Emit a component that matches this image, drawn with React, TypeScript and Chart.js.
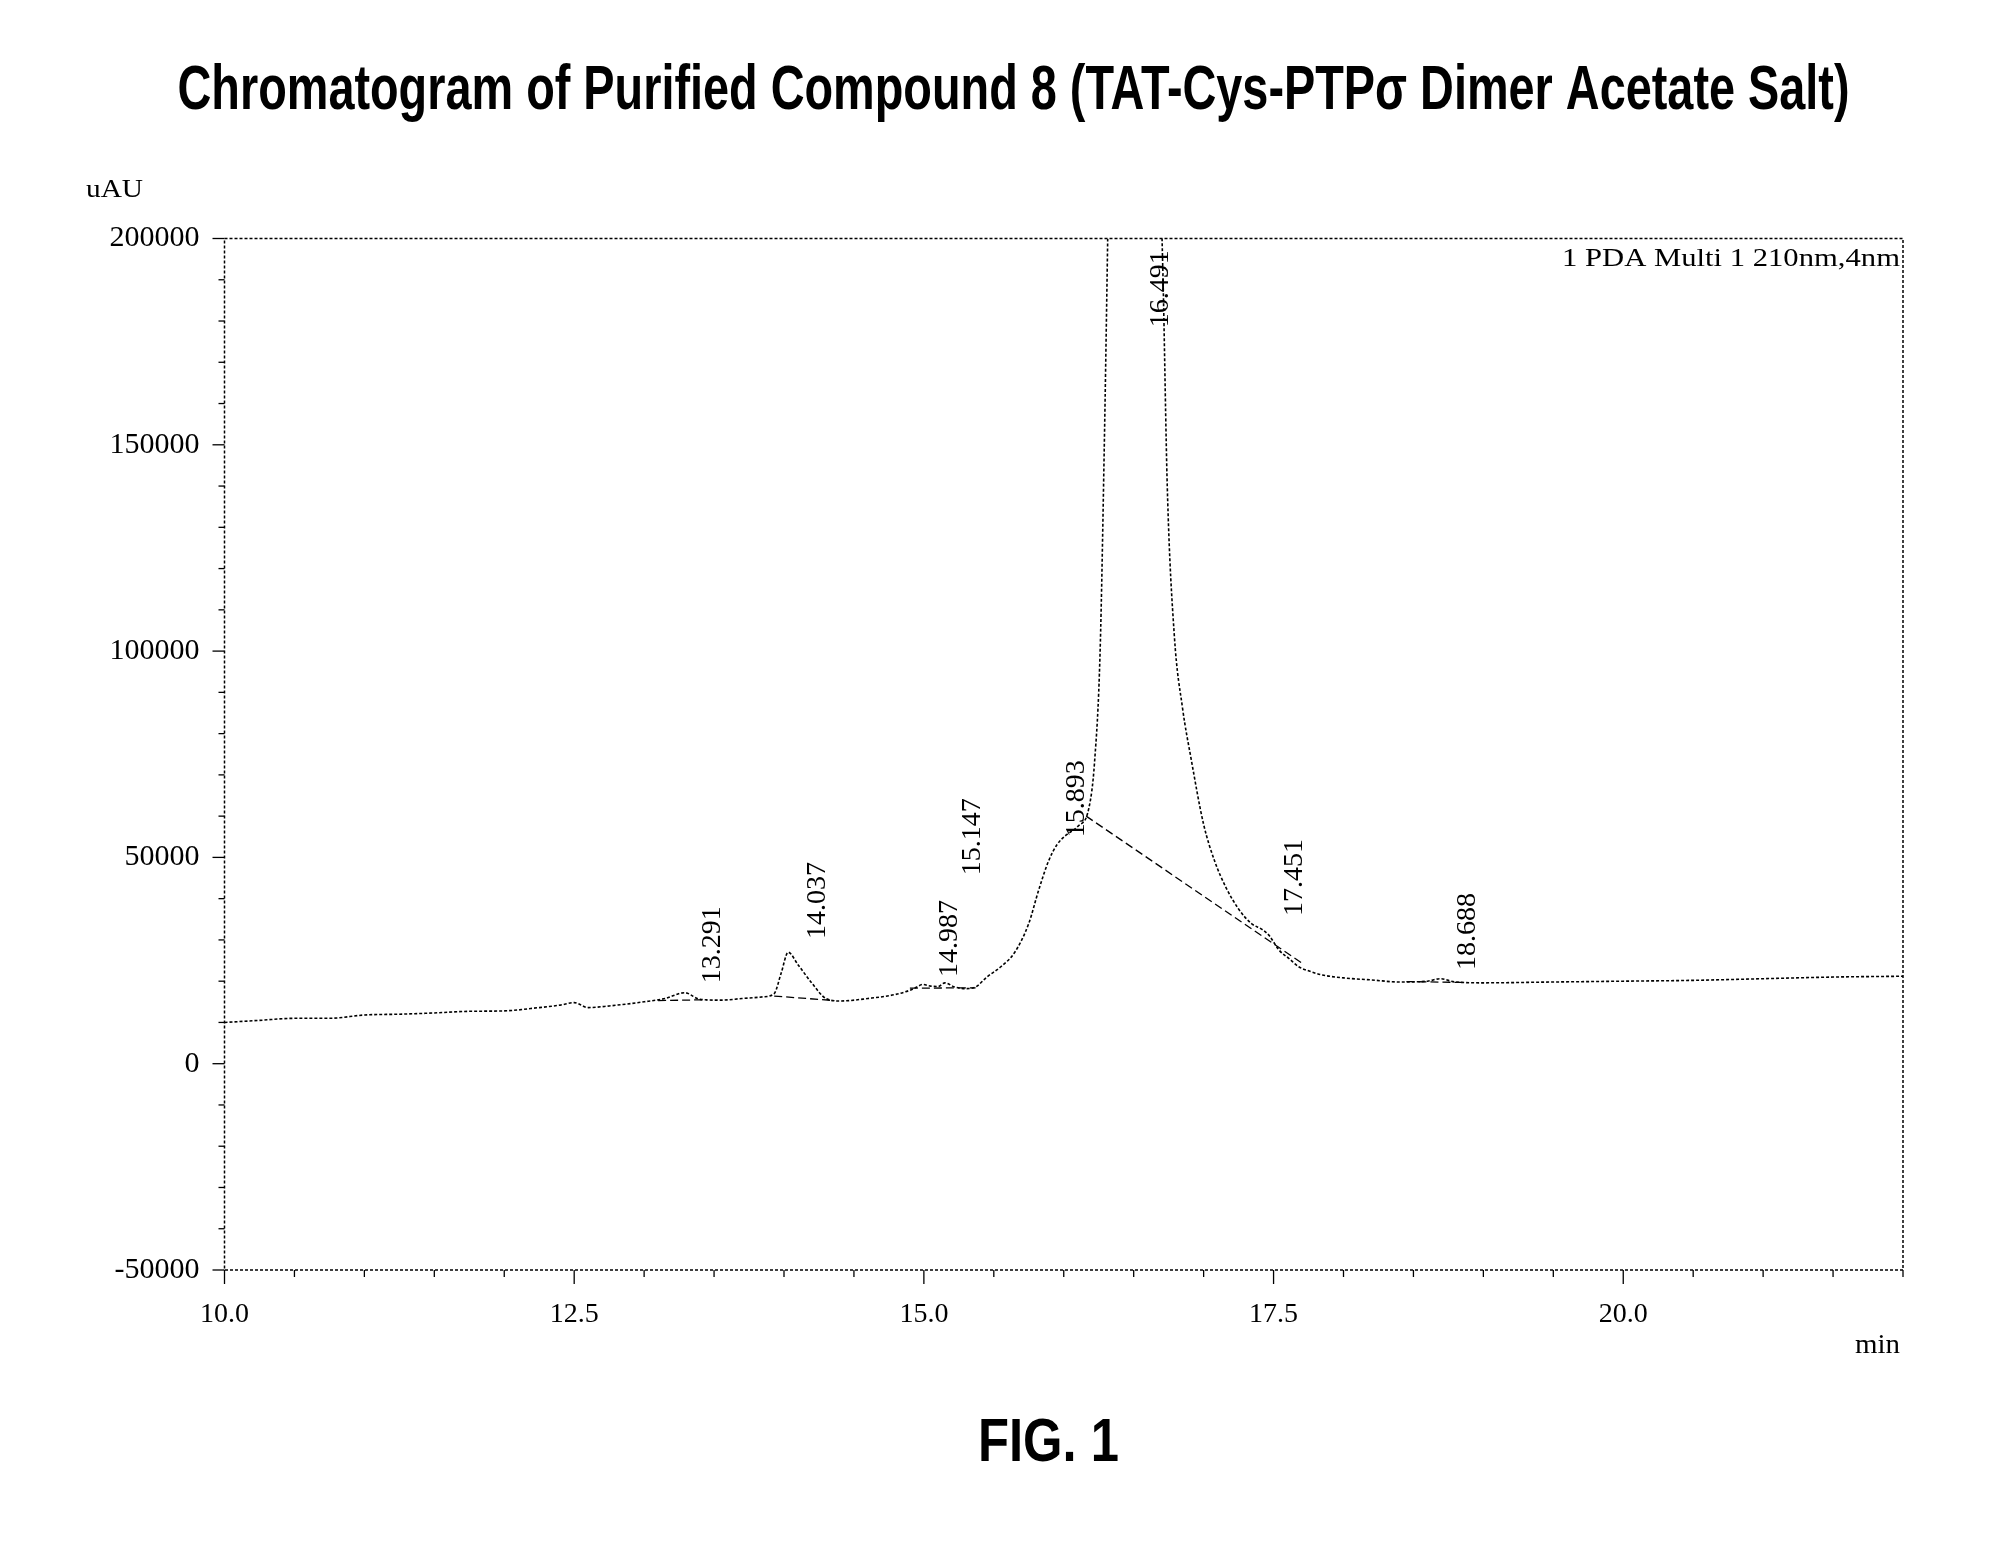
import React, { useEffect, useRef } from "react";
import { Chart, registerables } from "chart.js";
Chart.register(...registerables);

const TITLE = "Chromatogram of Purified Compound 8 (TAT-Cys-PTPσ Dimer Acetate Salt)";
const FIG_LABEL = "FIG. 1";
const Y_UNIT = "uAU";
const X_UNIT = "min";
const DETECTOR = "1 PDA Multi 1 210nm,4nm";

const X_MIN = 10;
const X_MAX = 22;
const Y_MIN = -50000;
const Y_MAX = 200000;

const times = [
  10.0, 10.25, 10.5, 10.75, 11.0, 11.25, 11.5, 11.75, 12.0, 12.25, 12.4, 12.5, 12.6, 12.75,
  13.0, 13.15, 13.29, 13.4, 13.55, 13.7, 13.85, 13.93, 13.98, 14.03, 14.1, 14.2, 14.3, 14.4,
  14.6, 14.8, 14.9, 14.95, 14.99, 15.05, 15.1, 15.15, 15.22, 15.3, 15.37, 15.45, 15.55, 15.65,
  15.75, 15.82, 15.89, 15.95, 16.02, 16.1, 16.18, 16.22, 16.26, 16.29, 16.33, 16.4, 16.49,
  16.58, 16.66, 16.71, 16.74, 16.79, 16.85, 16.91, 17.0, 17.08, 17.16, 17.25, 17.34, 17.42,
  17.47, 17.54, 17.61, 17.68, 17.75, 17.85, 18.0, 18.2, 18.4, 18.6, 18.69, 18.8, 19.0, 19.5,
  20.0, 20.5, 21.0, 21.5, 22.0,
];

const signal = [
  10000, 10500, 11000, 11000, 11800, 12000, 12300, 12700, 12800, 13600, 14200, 14800, 13600, 14000,
  15000, 15800, 17200, 15600, 15400, 15800, 16200, 17000, 22000, 27000, 24000, 19500, 15800, 15200,
  15800, 16800, 17800, 18600, 19200, 18800, 18700, 19600, 18600, 18200, 18600, 21000, 23500, 27000,
  34000, 42000, 49000, 53000, 55500, 57500, 62000, 73000, 100000, 150000, 230000, 320000, 380000,
  330000, 250000, 190000, 140000, 104000, 86000, 74000, 58000, 49000, 42700, 37500, 34000, 32500,
  31000, 27500, 25500, 23500, 22500, 21500, 20800, 20300, 19800, 20000, 20600, 19800, 19600, 19800,
  20000, 20200, 20600, 21000, 21200,
];

// integration baselines (dashed)
const baseStartT = [13.1, 13.93, 14.9, 16.16, 18.45];
const baseStartV = [15300, 16400, 18300, 60000, 19900];
const baseEndT = [13.45, 14.36, 15.37, 17.72, 18.85];
const baseEndV = [15500, 15300, 18400, 24000, 19700];

// peak retention-time labels and the signal level where each label starts
const peakTimes = [13.291, 14.037, 14.987, 15.147, 15.893, 16.491, 17.451, 18.688];
const peakLabelBase = [19500, 30200, 21000, 45700, 54900, 178500, 35800, 22700];

const SERIF = '"Liberation Serif", "Times New Roman", serif';
const NARROW = '"Liberation Sans Narrow", "Arial Narrow", "Liberation Sans", Arial, sans-serif';

const isMajorX = (v: number) => {
  const r = (v * 2) % 5;
  return Math.abs(r) < 1e-6 || Math.abs(r - 5) < 1e-6;
};
const isMajorY = (v: number) => Math.abs(v % 50000) < 1e-6;

function fitText(
  ctx: CanvasRenderingContext2D,
  text: string,
  x: number,
  y: number,
  targetW: number,
  font: string,
  align: "left" | "center" | "right"
) {
  ctx.save();
  ctx.font = font;
  const w = ctx.measureText(text).width;
  const sx = targetW / w;
  ctx.translate(x, y);
  ctx.scale(sx, 1);
  ctx.textAlign = align;
  ctx.textBaseline = "alphabetic";
  ctx.fillStyle = "#000";
  ctx.fillText(text, 0, 0);
  ctx.restore();
}

const decorPlugin = {
  id: "decor",
  afterDatasetsDraw(chart: any) {
    const { ctx, scales } = chart;
    const xs = scales.x;
    const ys = scales.y;
    ctx.save();
    ctx.fillStyle = "#000";
    ctx.font = `28px ${SERIF}`;
    ctx.textAlign = "left";
    ctx.textBaseline = "middle";
    peakTimes.forEach((t, i) => {
      const px = xs.getPixelForValue(t) + 28;
      const py = ys.getPixelForValue(peakLabelBase[i]);
      ctx.save();
      ctx.translate(px, py);
      ctx.rotate(-Math.PI / 2);
      ctx.fillText(t.toFixed(3), 0, 0);
      ctx.restore();
    });
    ctx.restore();
  },
  afterDraw(chart: any) {
    const { ctx, chartArea: a, scales } = chart;
    ctx.save();
    ctx.strokeStyle = "#000";
    ctx.lineWidth = 1.5;
    ctx.setLineDash([3, 2]);
    ctx.strokeRect(a.left, a.top, a.right - a.left, a.bottom - a.top);
    ctx.setLineDash([]);
    ctx.lineWidth = 1.3;
    scales.x.ticks.forEach((t: any) => {
      const px = scales.x.getPixelForValue(t.value);
      ctx.beginPath();
      ctx.moveTo(px, a.bottom);
      ctx.lineTo(px, a.bottom + (isMajorX(t.value) ? 14 : 7));
      ctx.stroke();
    });
    scales.y.ticks.forEach((t: any) => {
      const py = scales.y.getPixelForValue(t.value);
      ctx.beginPath();
      ctx.moveTo(a.left, py);
      ctx.lineTo(a.left - (isMajorY(t.value) ? 12 : 6), py);
      ctx.stroke();
    });
    ctx.restore();

    // texts
    fitText(ctx, TITLE, 1013.5, 109, 1672, `bold 63px ${NARROW}`, "center");
    fitText(ctx, FIG_LABEL, 1048.5, 1461, 141, `bold 62px ${NARROW}`, "center");
    fitText(ctx, Y_UNIT, 86, 197, 57, `26px ${SERIF}`, "left");
    fitText(ctx, X_UNIT, 1900, 1353, 45, `28px ${SERIF}`, "right");
    fitText(ctx, DETECTOR, a.right - 3, 266, 338, `25px ${SERIF}`, "right");
  },
};

export default function App() {
  const ref = useRef<HTMLCanvasElement>(null);
  useEffect(() => {
    if (!ref.current) return;
    const datasets: any[] = [
      {
        data: times.map((t, i) => ({ x: t, y: signal[i] })),
        borderColor: "#000",
        borderWidth: 1.6,
        borderDash: [3, 2],
        pointRadius: 0,
        cubicInterpolationMode: "monotone",
        fill: false,
      },
    ];
    baseStartT.forEach((t, i) => {
      datasets.push({
        data: [
          { x: t, y: baseStartV[i] },
          { x: baseEndT[i], y: baseEndV[i] },
        ],
        borderColor: "#000",
        borderWidth: 1.3,
        borderDash: [8, 4],
        pointRadius: 0,
        fill: false,
      });
    });
    const chart = new Chart(ref.current, {
      type: "line",
      data: { datasets },
      plugins: [decorPlugin],
      options: {
        animation: false,
        responsive: false,
        devicePixelRatio: 1,
        layout: { padding: { left: 0, right: 86, top: 238.5, bottom: 0 } },
        plugins: { legend: { display: false }, title: { display: false }, tooltip: { enabled: false } },
        scales: {
          x: {
            type: "linear",
            min: X_MIN,
            max: X_MAX,
            grid: { display: false },
            border: { display: false },
            ticks: {
              stepSize: 0.5,
              maxTicksLimit: 200,
              autoSkip: false,
              maxRotation: 0,
              padding: 20,
              color: "#000",
              font: { family: SERIF, size: 28 },
              callback: (v: any) => (isMajorX(Number(v)) ? Number(v).toFixed(1) : ""),
            },
            afterFit: (s: any) => {
              s.height = 276;
            },
          },
          y: {
            type: "linear",
            min: Y_MIN,
            max: Y_MAX,
            grid: { display: false },
            border: { display: false },
            ticks: {
              stepSize: 10000,
              maxTicksLimit: 200,
              autoSkip: false,
              padding: 17,
              color: "#000",
              font: { family: SERIF, size: 30 },
              callback: (v: any) => (isMajorY(Number(v)) ? String(Number(v)) : ""),
            },
            afterFit: (s: any) => {
              s.width = 224.5;
            },
          },
        },
      } as any,
    });
    return () => chart.destroy();
  }, []);
  return (
    <div style={{ position: "absolute", left: 0, top: 0, width: 1989, height: 1546, background: "#fff" }}>
      <canvas ref={ref} width={1989} height={1546} style={{ display: "block" }} />
    </div>
  );
}
